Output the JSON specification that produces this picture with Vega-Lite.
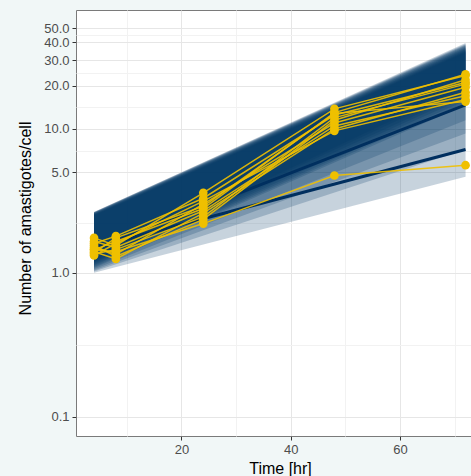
{
  "$schema": "https://vega.github.io/schema/vega-lite/v6.json",
  "width": 395,
  "height": 426,
  "autosize": {"type": "none"},
  "padding": {"left": 76, "top": 10, "right": 0, "bottom": 40},
  "background": "#f1f7f7",
  "config": {
    "view": {"stroke": "#7a7a7a", "strokeWidth": 1, "fill": "white"},
    "font": "Liberation Sans"
  },
  "datasets": {
    "ribbons": [
      {"band": "R1", "t": 4, "v": 1.0, "v2": 2.65}, {"band": "R1", "t": 72, "v": 4.65, "v2": 39.5},
      {"band": "R2", "t": 4, "v": 1.02, "v2": 2.65}, {"band": "R2", "t": 72, "v": 7.2, "v2": 39},
      {"band": "R3", "t": 4, "v": 1.04, "v2": 2.64}, {"band": "R3", "t": 72, "v": 9.3, "v2": 38.5},
      {"band": "R4", "t": 4, "v": 1.06, "v2": 2.63}, {"band": "R4", "t": 72, "v": 11.5, "v2": 38},
      {"band": "R5", "t": 4, "v": 1.08, "v2": 2.62}, {"band": "R5", "t": 72, "v": 14.7, "v2": 37.5},
      {"band": "R6", "t": 4, "v": 1.1, "v2": 2.61}, {"band": "R6", "t": 72, "v": 15.2, "v2": 37},
      {"band": "R7", "t": 4, "v": 1.12, "v2": 2.6}, {"band": "R7", "t": 72, "v": 15.8, "v2": 36.5},
      {"band": "R8", "t": 4, "v": 1.14, "v2": 2.58}, {"band": "R8", "t": 72, "v": 16.5, "v2": 36},
      {"band": "R9", "t": 4, "v": 1.16, "v2": 2.56}, {"band": "R9", "t": 72, "v": 17.2, "v2": 35.5},
      {"band": "R10", "t": 4, "v": 1.18, "v2": 2.54}, {"band": "R10", "t": 72, "v": 18, "v2": 35},
      {"band": "R11", "t": 4, "v": 1.2, "v2": 2.52}, {"band": "R11", "t": 72, "v": 19, "v2": 34.5},
      {"band": "R12", "t": 4, "v": 1.22, "v2": 2.5}, {"band": "R12", "t": 72, "v": 20, "v2": 34}
    ],
    "models": [
      {"m": "A", "t": 4, "v": 1.45}, {"m": "A", "t": 72, "v": 14.7},
      {"m": "B", "t": 4, "v": 1.5}, {"m": "B", "t": 72, "v": 7.2}
    ],
    "obs": [
      {"s": "S1", "t": 4, "v": 1.75}, {"s": "S1", "t": 8, "v": 1.55}, {"s": "S1", "t": 24, "v": 3.6}, {"s": "S1", "t": 48, "v": 13.8}, {"s": "S1", "t": 72, "v": 23.5},
      {"s": "S2", "t": 4, "v": 1.6}, {"s": "S2", "t": 8, "v": 1.8}, {"s": "S2", "t": 24, "v": 3.3}, {"s": "S2", "t": 48, "v": 12.5}, {"s": "S2", "t": 72, "v": 21.0},
      {"s": "S3", "t": 4, "v": 1.5}, {"s": "S3", "t": 8, "v": 1.35}, {"s": "S3", "t": 24, "v": 3.0}, {"s": "S3", "t": 48, "v": 11.0}, {"s": "S3", "t": 72, "v": 19.5},
      {"s": "S4", "t": 4, "v": 1.45}, {"s": "S4", "t": 8, "v": 1.65}, {"s": "S4", "t": 24, "v": 2.8}, {"s": "S4", "t": 48, "v": 13.0}, {"s": "S4", "t": 72, "v": 24.0},
      {"s": "S5", "t": 4, "v": 1.4}, {"s": "S5", "t": 8, "v": 1.25}, {"s": "S5", "t": 24, "v": 2.6}, {"s": "S5", "t": 48, "v": 10.0}, {"s": "S5", "t": 72, "v": 18.0},
      {"s": "S6", "t": 4, "v": 1.35}, {"s": "S6", "t": 8, "v": 1.45}, {"s": "S6", "t": 24, "v": 2.45}, {"s": "S6", "t": 48, "v": 12.0}, {"s": "S6", "t": 72, "v": 20.5},
      {"s": "S7", "t": 4, "v": 1.32}, {"s": "S7", "t": 8, "v": 1.6}, {"s": "S7", "t": 24, "v": 3.15}, {"s": "S7", "t": 48, "v": 9.7}, {"s": "S7", "t": 72, "v": 16.0},
      {"s": "S8", "t": 4, "v": 1.55}, {"s": "S8", "t": 8, "v": 1.3}, {"s": "S8", "t": 24, "v": 2.35}, {"s": "S8", "t": 48, "v": 11.5}, {"s": "S8", "t": 72, "v": 22.0},
      {"s": "S9", "t": 4, "v": 1.65}, {"s": "S9", "t": 8, "v": 1.5}, {"s": "S9", "t": 24, "v": 2.7}, {"s": "S9", "t": 48, "v": 10.5}, {"s": "S9", "t": 72, "v": 17.0},
      {"s": "S10", "t": 4, "v": 1.38}, {"s": "S10", "t": 8, "v": 1.75}, {"s": "S10", "t": 24, "v": 2.9}, {"s": "S10", "t": 48, "v": 12.8}, {"s": "S10", "t": 72, "v": 15.5},
      {"s": "S11", "t": 4, "v": 1.45}, {"s": "S11", "t": 8, "v": 1.4}, {"s": "S11", "t": 24, "v": 2.2}, {"s": "S11", "t": 48, "v": 4.75}, {"s": "S11", "t": 72, "v": 5.6}
    ]
  },
  "encoding": {
    "x": {
      "field": "t", "type": "quantitative",
      "scale": {"domain": [0.7, 73], "nice": false, "zero": false},
      "axis": {
        "values": [10, 20, 30, 40, 50, 60, 70],
        "labelExpr": "datum.value % 20 == 0 ? datum.label : ''",
        "domain": false,
        "tickColor": "#333333", "tickSize": 4, "tickWidth": 1,
        "tickOpacity": {"condition": {"test": "datum.value % 20 != 0", "value": 0}, "value": 1},
        "gridColor": {"condition": {"test": "datum.value % 20 != 0", "value": "#f2f2f2"}, "value": "#e6e6e6"},
        "gridWidth": 1,
        "labelFontSize": 13, "labelColor": "#4d4d4d", "labelPadding": 3,
        "title": "Time [hr]", "titleFontSize": 16, "titleFontWeight": "normal", "titleColor": "#000000",
        "titleX": 204, "titleY": 24, "titleBaseline": "top", "titleAlign": "center"
      }
    },
    "y": {
      "field": "v", "type": "quantitative",
      "scale": {"type": "log", "domain": [0.0735, 67.1], "nice": false},
      "axis": {
        "values": [0.1, 0.316, 1, 2.236, 5, 7.07, 10, 14.14, 20, 24.49, 30, 40, 44.72, 50],
        "labelExpr": "indexof([0.1,1,5,10,20,30,40,50], datum.value) >= 0 ? format(datum.value, '.1f') : ''",
        "domain": false,
        "tickColor": "#333333", "tickSize": 4, "tickWidth": 1,
        "tickOpacity": {"condition": {"test": "indexof([0.1,1,5,10,20,30,40,50], datum.value) < 0", "value": 0}, "value": 1},
        "gridColor": {"condition": {"test": "indexof([0.1,1,5,10,20,30,40,50], datum.value) < 0", "value": "#f2f2f2"}, "value": "#e6e6e6"},
        "gridWidth": 1,
        "labelFontSize": 13, "labelColor": "#4d4d4d", "labelPadding": 3,
        "title": "Number of amastigotes/cell", "titleFontSize": 16, "titleFontWeight": "normal", "titleColor": "#000000",
        "titleX": -46, "titleY": 208, "titleAngle": 270, "titleBaseline": "alphabetic", "titleAlign": "center"
      }
    }
  },
  "layer": [
    {
      "data": {"name": "ribbons"},
      "mark": {"type": "area", "color": "#003563", "opacity": 0.22},
      "encoding": {"y2": {"field": "v2"}, "detail": {"field": "band", "type": "nominal"}}
    },
    {
      "data": {"name": "models"},
      "mark": {"type": "line", "color": "#002f5f", "strokeWidth": 3},
      "encoding": {"detail": {"field": "m", "type": "nominal"}}
    },
    {
      "data": {"name": "obs"},
      "mark": {"type": "line", "color": "#EFC000", "strokeWidth": 1.5, "opacity": 0.9},
      "encoding": {"detail": {"field": "s", "type": "nominal"}}
    },
    {
      "data": {"name": "obs"},
      "mark": {"type": "point", "filled": true, "color": "#EFC000", "size": 75, "opacity": 1},
      "encoding": {}
    }
  ]
}
